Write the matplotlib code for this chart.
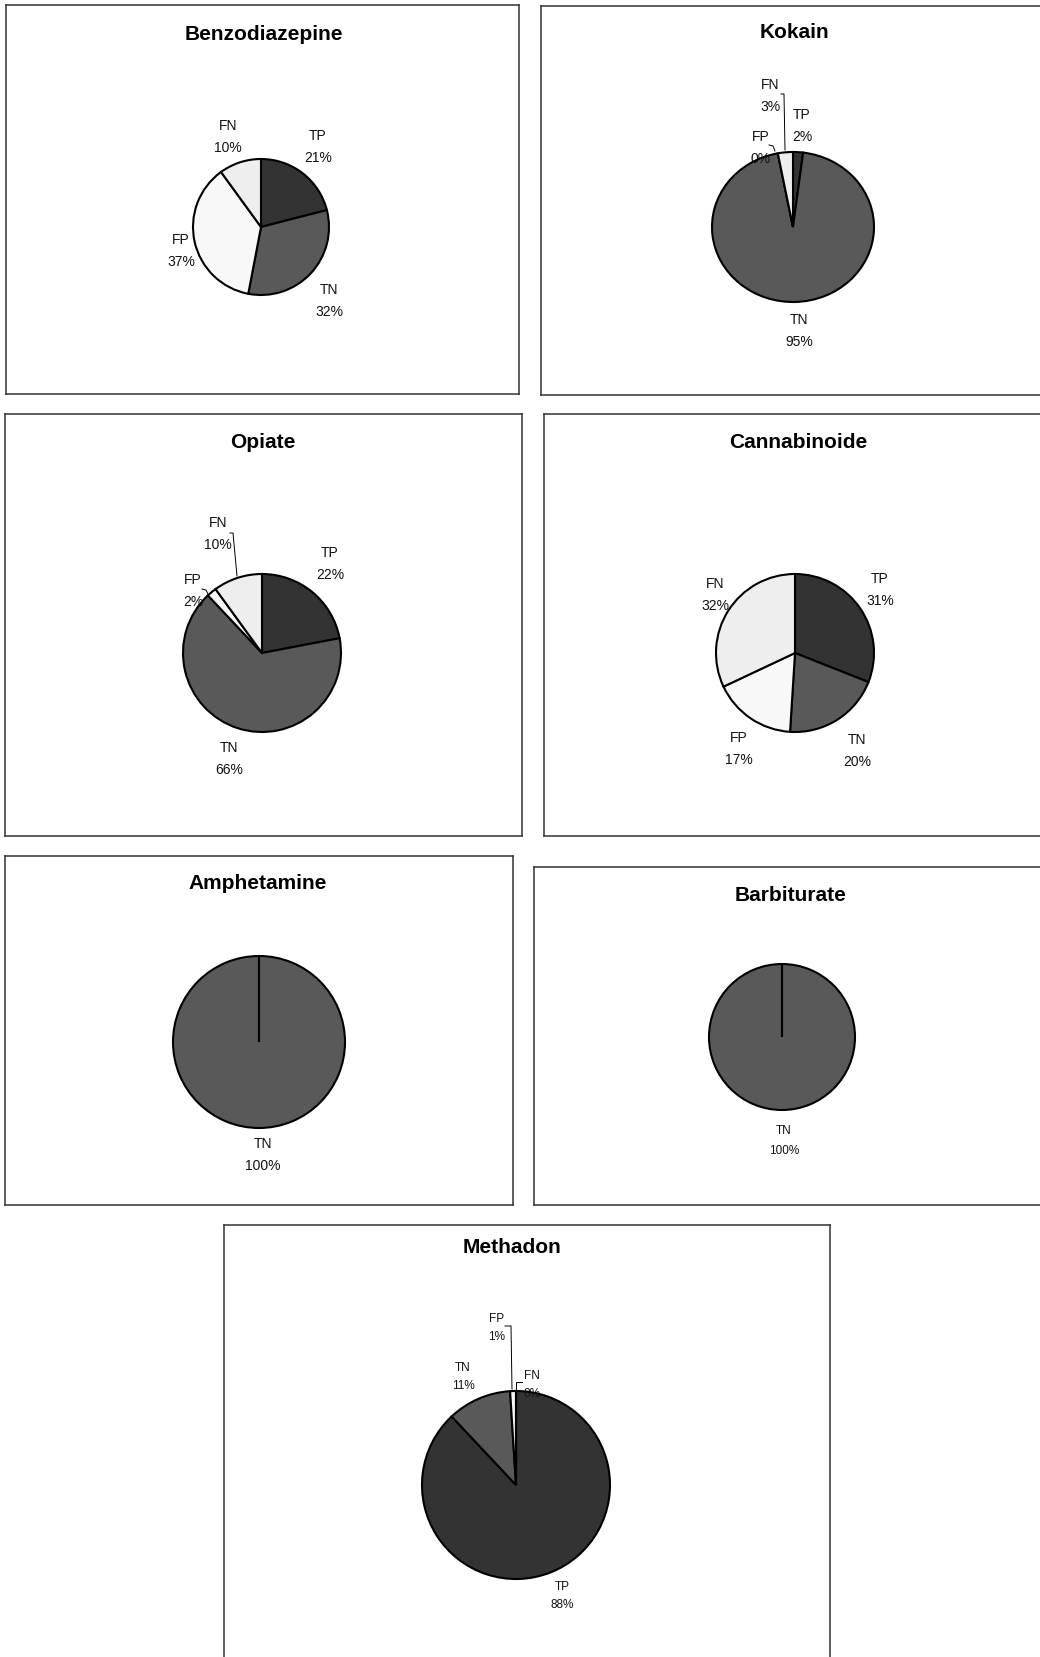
import matplotlib

matplotlib.use('Agg')
import matplotlib.pyplot as plt

plt.rcParams['font.family'] = ['Liberation Sans', 'DejaVu Sans']

W, H = 1040, 1658

categories = ['TP', 'TN', 'FP', 'FN']
colors = ['#333333', '#595959', '#f8f8f8', '#eeeeee']

titles = ['Benzodiazepine', 'Kokain', 'Opiate', 'Cannabinoide',
          'Amphetamine', 'Barbiturate', 'Methadon']
benzo = [21, 32, 37, 10]
kokain = [2, 95, 0, 3]
opiate = [22, 66, 2, 10]
cannabis = [31, 20, 17, 32]
amphet = [0, 100, 0, 0]
barbit = [0, 100, 0, 0]
methadon = [88, 11, 1, 0]
values = [benzo, kokain, opiate, cannabis, amphet, barbit, methadon]

# layout, in pixels from the top left of the picture
boxes = [(6, 6, 519, 395), (541, 7, 1045, 396), (5, 415, 522, 837),
         (544, 415, 1045, 837), (5, 857, 513, 1206), (534, 868, 1045, 1206),
         (224, 1226, 830, 1670)]
title_pos = [(264, 35), (794, 33), (263, 443), (798, 443),
             (258, 884), (791, 896), (512, 1248)]
centers = [(261, 228), (793, 228), (262, 654), (795, 654),
           (259, 1043), (782, 1038), (516, 1486)]
radii = [(68, 68), (81, 75), (79, 79), (79, 79), (86, 86), (73, 73), (94, 94)]
label_size = [10, 10, 10, 10, 10, 8.5, 8.5]
line_gap = [1.7, 1.7, 1.7, 1.7, 1.7, 1.8, 1.75]
# offsets of each label (TP, TN, FP, FN) from the pie center; None = hidden
label_off = [
    [(57, -81), (68, 73), (-80, 23), (-33, -91)],
    [(9, -102), (6, 103), (-32, -80), (-23, -132)],
    [(68, -90), (-33, 105), (-69, -63), (-44, -120)],
    [(85, -64), (62, 97), (-56, 95), (-80, -59)],
    [None, (4, 112), None, None],
    [None, (2, 103), None, None],
    [(46, 110), (-53, -109), (-19, -158), (16, -101)],
]
leaders = {
    1: [[(781, 95), (784, 95), (785, 151)], [(769, 146), (773, 147), (775, 152)]],
    2: [[(230, 534), (233, 534), (237, 577)], [(202, 590), (206, 591), (208, 595)]],
    6: [[(505, 1327), (511, 1327), (512, 1390)], [(522, 1383), (516, 1383), (516, 1390)]],
}


def frac(x0, y0, x1, y1):
    return [x0 / W, 1 - y1 / H, (x1 - x0) / W, (y1 - y0) / H]


fig = plt.figure(figsize=(W / 100, H / 100), dpi=100)

for i, vals in enumerate(values):
    x0, y0, x1, y1 = boxes[i]
    frame = fig.add_axes(frac(x0, y0, x1, y1))
    frame.set_xticks([])
    frame.set_yticks([])
    for s in frame.spines.values():
        s.set_color('#333333')
        s.set_linewidth(1.1)

    tx, ty = title_pos[i]
    fig.text(tx / W, 1 - ty / H, titles[i], ha='center', va='center',
             fontsize=15, fontweight='bold')

    cx, cy = centers[i]
    rx, ry = radii[i]
    ax = fig.add_axes(frac(cx - rx, cy - ry, cx + rx, cy + ry))
    ax.pie(vals, colors=colors, startangle=90, counterclock=False,
           wedgeprops=dict(edgecolor='black', linewidth=1.5))
    ax.set_aspect('auto')
    ax.set_xlim(-1, 1)
    ax.set_ylim(-1, 1)

    for j, off in enumerate(label_off[i]):
        if off is None:
            continue
        ax.text(off[0] / rx, -off[1] / ry, f'{categories[j]}\n{vals[j]}%',
                ha='center', va='center', fontsize=label_size[i],
                linespacing=line_gap[i], clip_on=False, color='#111111')

    for line in leaders.get(i, []):
        xs = [(p[0] - cx) / rx for p in line]
        ys = [-(p[1] - cy) / ry for p in line]
        ax.plot(xs, ys, color='black', linewidth=0.7, clip_on=False)

fig.savefig('out.png', dpi=100)
